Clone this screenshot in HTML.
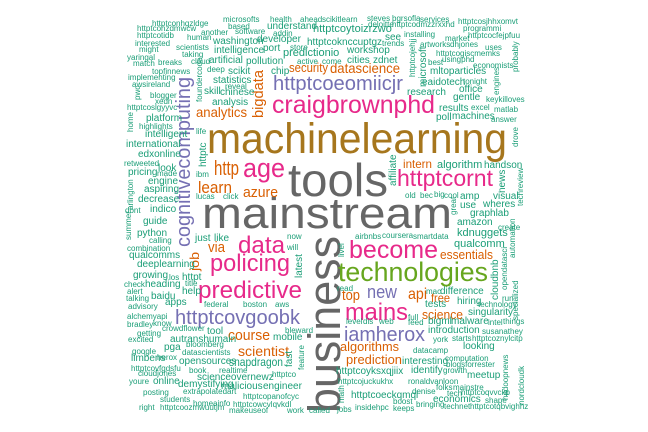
<!DOCTYPE html>
<html><head><meta charset="utf-8"><style>
html,body{margin:0;padding:0;background:#fff;}
svg{display:block;font-family:"Liberation Sans",Arial,sans-serif;}
</style></head><body>
<svg id="cloud" width="648" height="432" viewBox="0 0 648 432" xmlns="http://www.w3.org/2000/svg">
<rect width="648" height="432" fill="#fff"/>
<g id="words"></g>
</svg>
<script>
// Big words: text, colour, font size, x, baseline y, target length, rotated
const bigWords = ["machinelearning","tools","mainstream","business","cognitivecomputing","craigbrownphd","httptcoeomiicjr","technologies","become","predictive","policing","data","httptcovgoobk","mains","iamherox","httptcornt","age","bigdata","datascience","security","analytics","http","learn","azure","intern","via","job","course","scientist","new","top","api","free","essentials","science","algorithms","prediction","snapdragon"];
const bigColors = ["#a6761d","#666666","#666666","#666666","#7570b3","#e7298a","#7570b3","#66a61e","#e7298a","#e7298a","#e7298a","#e7298a","#7570b3","#e7298a","#7570b3","#e7298a","#e7298a","#d95f02","#d95f02","#d95f02","#d95f02","#d95f02","#d95f02","#d95f02","#d95f02","#d95f02","#d95f02","#d95f02","#d95f02","#7570b3","#d95f02","#d95f02","#d95f02","#d95f02","#d95f02","#d95f02","#d95f02","#1b9e77"];
const bigSizes = [43,46,44,45,20,25,20,27,25,24,24,24,20,24,20,23,27,15,14,13,14,20,17,15,12,15,13,15,14,18,15,16,12,13,13,13,13,12];
const bigX = [207,288,202,340,190,272,273,338,349,198,210,238,175,345,344,397,243,263,330,289,196,214,198,243,403,208,199,228,238,367,342,408,431,440,422,340,346,229];
const bigY = [153,196,228,413,247,113,90,281,258,298,271,253,324,320,341,186,177,118,73,72,117,175,193,197,168,252,271,340,356,298,300,299,302,259,319,351,364,366];
const bigLen = [300,100,250,177,170,163,130,150,89,104,80,47,125,63,81,96,42,48,70,39,51,25,34,35,29,17,19,42,51,30,18,19,19,53,41,59,56,54];
const bigRot = [0,0,0,1,1,0,0,0,0,0,0,0,0,0,0,0,0,1,0,0,0,0,0,0,0,0,1,0,0,0,0,0,0,0,0,0,0,0];

// Small words: text, x, baseline y, size
const smallWords = ["httptconhqzldge","microsofts","health","ahead","scikitlearn","steves","bgrsofla","services","httptcosjhhxomvt","httptcohzdmwcw","based","deloitte","httptcodmzzrxxhd","programmi","another","software","understand","httptcoytoizrzwo","addin","httptcotidb","human","washington","developer","see","installing","httptcocfejpfuu","market","interested","scientists","port","store","httptcoknccuptgz","trends","artworks","dhjones","uses","might","intelligence","predictionio","workshop","httptcogiscmemks","yaringal","taking","cloud","artificial","pollution","cities","zdnet","active","come","best","usingphd","match","breaks","economists","topfinnews","deep","scikit","chip","mltoparticles","implementing","statistics","reveal","eaidotech","tonight","awsireland","skill","chinese","research","office","blogger","gentle","keykilloves","httptcoslgyyvc","xedn","analysis","results","excel","matlab","platform","poll","machines","answer","highlights","intelligent","life","international","edxonline","algorithm","handson","retweeted","pricing","look","made","ibm","engine","amp","visual","aspiring","lucas","click","old","bec","big","cool","decrease","use","wheres","dont","indico","graphlab","guide","amazon","create","python","just","like","now","airbnbs","coursera","smartdata","kdnuggets","calling","will","combination","qualcomm","qualcomms","deeplearning","growing","los","httpt","heading","check","title","read","mac","difference","alert","help","baidu","talking","apps","hiring","run","advisory","federal","boston","aws","tests","technology","singularity","alchemyapi","bradley","know","full","level","dis","web","feed","bigml","malware","intel","things","crowdflower","tool","bleward","introduction","susanathey","getting","excited","autranshumain","mobile","york","starts","httptcoznylcitp","bloomberg","pga","datacamp","looking","google","datascientists","limbens","herox","opensources","interesting","computation","blogsforrester","httptcovfgdsfu","book","realtime","httptcoyksxqjiix","identify","growth","cloudjones","meetup","scienceovernewz","httptco","youre","online","httptcojuckukhx","ronaldvanloon","demystifying","malicious","engineer","folks","mainstre","extrapolatedart","denise","httptcoqvvckp","posting","tech","httptcopanofcyc","httptcoeckqmql","economics","students","boost","shape","homeainfo","httptcowcvlqvkdl","bringing","technet","httptcotqbvighhz","right","httptcoozmwuutjm","work","called","jobs","insidehpc","keeps","makeuseof"];
const smallX = [152,223,270,300,322,367,392,420,458,137,228,368,392,463,201,235,267,313,273,137,187,213,257,385,404,468,445,135,176,263,290,307,382,420,450,485,139,214,283,347,436,127,182,191,209,246,347,373,297,322,428,442,133,158,473,152,207,228,271,430,128,213,225,422,463,132,204,220,407,459,150,453,486,127,155,212,439,471,494,146,436,452,491,139,145,196,126,138,437,484,124,128,158,157,196,148,460,493,144,196,223,405,420,434,444,138,460,483,125,150,470,143,457,498,137,195,214,287,355,382,413,457,149,287,127,454,129,137,133,169,182,145,124,185,337,426,440,127,182,151,126,165,457,502,128,204,243,275,425,478,468,127,127,153,408,346,363,379,408,428,451,488,503,162,207,285,428,482,137,128,170,273,433,452,472,186,164,413,463,132,182,131,157,179,402,445,446,131,189,219,336,411,443,138,467,197,272,129,153,338,408,178,221,263,436,453,183,412,461,143,447,243,351,433,160,393,485,193,233,416,444,470,139,160,287,309,337,355,393,229];
const smallY = [26,22,22,22,22,21,21,22,24,31,29,27,27,31,35,34,29,32,36,38,40,44,42,40,37,38,41,46,50,51,50,45,46,47,47,50,52,53,56,53,56,60,57,64,63,64,63,63,64,64,65,62,66,65,68,74,72,74,74,74,80,83,89,85,84,87,94,95,95,92,98,100,102,110,104,105,111,110,112,121,120,119,122,129,137,134,147,157,168,168,166,175,171,176,177,184,199,199,192,199,199,198,198,197,198,202,208,207,213,212,216,224,225,230,236,241,241,239,239,238,239,236,243,250,251,247,258,267,278,280,280,287,287,286,291,294,294,294,294,299,301,305,304,301,309,307,307,307,307,307,315,319,327,326,320,324,324,324,325,324,324,325,324,331,334,333,333,334,336,342,342,340,342,341,341,347,350,353,349,354,355,361,360,364,364,361,367,371,373,373,374,373,373,376,378,380,377,384,384,384,384,387,389,389,390,390,394,394,395,395,396,399,398,402,402,404,403,406,407,407,409,409,410,410,413,413,412,410,411,413];
const smallSizes = [8,8,8,8,8,8,8,8,8,8,8,8,8,8,8,8,10,11,8,8,8,10,10,10,8,8,8,8,8,10,8,10,8,8,8,8,8,10,11,10,8,8,8,8,10,10,10,10,8,8,8,8,8,8,8,8,8,10,10,10,8,10,8,10,8,8,10,10,10,10,8,10,8,8,8,10,10,8,8,10,10,10,8,8,10,8,10,10,11,10,8,10,10,8,8,10,10,10,10,8,8,8,8,8,8,10,10,10,8,10,10,10,10,8,10,10,10,8,8,8,8,11,8,8,8,11,10,10,10,8,10,10,8,8,8,8,10,8,10,10,8,10,10,8,8,8,8,8,10,8,10,8,8,8,8,8,8,8,8,10,10,8,8,8,10,8,10,8,8,8,10,10,8,8,8,8,10,8,10,8,8,10,8,10,10,8,8,8,8,8,10,10,8,8,10,10,8,8,10,8,8,10,10,10,8,8,8,8,8,8,8,8,10,10,8,8,8,8,8,8,8,8,8,8,8,8,8,8,8,8,8];

// Small vertical words
const vertWords = ["summer","latest","fast","feature","math","livel","automation","specialized","hadoopnews","nordcloudk","cloudbnb","httptcojehjj","microsoft","foundercode","probably","engines","httptc","affiliate","news","arlington","great","techreview","drove","pwc","home","opendatasci"];
const vertX = [131,302,292,304,344,344,515,518,508,524,498,415,426,202,518,499,206,396,505,133,456,523,518,140,133,507];
const vertY = [240,278,367,370,403,257,258,320,400,405,300,77,87,102,72,95,167,186,193,210,215,206,147,100,132,290];
const vertSizes = [8,10,10,8,8,8,8,8,8,8,10,8,10,8,8,8,10,10,10,8,8,8,8,8,8,8];

const NS = "http://www.w3.org/2000/svg";
const g = document.getElementById("words");

for (let i = 0; i < bigWords.length; i++) {
  const t = document.createElementNS(NS, "text");
  
  
  t.setAttribute("font-size", bigSizes[i]);
  t.setAttribute("fill", bigColors[i]);
  t.setAttribute("textLength", bigLen[i]);
  t.setAttribute("lengthAdjust", "spacingAndGlyphs");
  if (bigRot[i]) {
    t.setAttribute("transform", "translate(" + bigX[i] + "," + bigY[i] + ") rotate(-90)");
  } else {
    t.setAttribute("x", bigX[i]);
    t.setAttribute("y", bigY[i]);
  }
  t.textContent = bigWords[i];
  g.appendChild(t);
}
for (let i = 0; i < smallWords.length; i++) {
  const t = document.createElementNS(NS, "text");
  
  
  t.setAttribute("font-size", smallSizes[i]);
  t.setAttribute("fill", "#1b9e77");
  t.setAttribute("x", smallX[i]);
  t.setAttribute("y", smallY[i]);
  t.textContent = smallWords[i];
  g.appendChild(t);
}
for (let i = 0; i < vertWords.length; i++) {
  const t = document.createElementNS(NS, "text");
  
  
  t.setAttribute("font-size", vertSizes[i]);
  t.setAttribute("fill", "#1b9e77");
  t.setAttribute("transform", "translate(" + vertX[i] + "," + vertY[i] + ") rotate(-90)");
  t.textContent = vertWords[i];
  g.appendChild(t);
}
</script>
</body></html>
